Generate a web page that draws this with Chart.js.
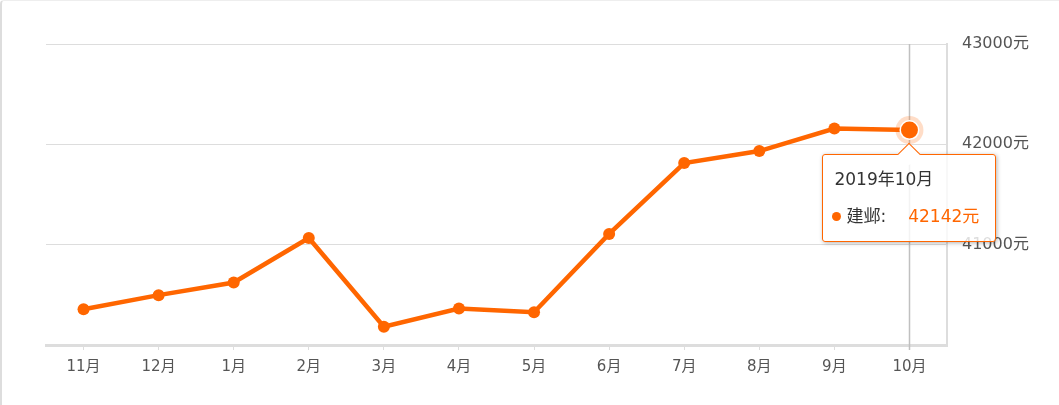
<!DOCTYPE html>
<html><head><meta charset="utf-8">
<script src="https://cdn.jsdelivr.net/npm/chart.js@4"></script>
<style>
html,body{margin:0;padding:0;background:#fff;}
#wrap{position:relative;width:1059px;height:405px;overflow:hidden;}
#frame{position:absolute;left:0;top:0;width:1200px;height:600px;border-left:2px solid #ddd;border-top:1px solid #eee;border-top-left-radius:4px;box-sizing:border-box;pointer-events:none;}
#c{position:absolute;left:0;top:0;}
#tip{position:absolute;background:rgba(255,255,255,0.8);border:1.5px solid #ff6600;border-radius:3px;box-shadow:1px 1px 4px rgba(0,0,0,0.3);font-family:"DejaVu Sans","Noto Sans CJK SC",sans-serif;box-sizing:border-box;}
#tip .caret{position:absolute;width:15px;height:15px;background:#fff;border-left:1.5px solid #ff6600;border-top:1.5px solid #ff6600;transform:rotate(45deg);}
#tip .t{position:absolute;left:11px;font-size:17px;line-height:20px;color:#333;white-space:nowrap;}
#tip .b{position:absolute;left:9px;font-size:17px;line-height:20px;color:#333;white-space:nowrap;}
#tip .dot{display:inline-block;width:9px;height:9px;border-radius:50%;background:#ff6600;margin-right:5px;vertical-align:1px;}
#tip .v{color:#ff6600;margin-left:22px;}
</style></head>
<body>
<div id="wrap">
<div id="frame"></div>
<canvas id="c" width="1059" height="405"></canvas>
<div id="tip" style="display:none"><div class="caret"></div><div class="t"></div><div class="b"></div></div>
</div>
<script>
const categories = ["11月","12月","1月","2月","3月","4月","5月","6月","7月","8月","9月","10月"];
const fullLabels = ["2018年11月","2018年12月","2019年1月","2019年2月","2019年3月","2019年4月","2019年5月","2019年6月","2019年7月","2019年8月","2019年9月","2019年10月"];
const seriesName = "建邺";
const prices = [40357,40497,40623,41067,40183,40363,40327,41107,41813,41933,42157,42142];
const yTicks = [41000,42000,43000];
const yMin = 40000, yMax = 43000;
const unit = "元";
const activeIndex = 11;

const ORANGE = "#ff6600";
const FONT = '"DejaVu Sans","Noto Sans CJK SC",sans-serif';

const crosshair = {
  id:'crosshair',
  beforeDatasetsDraw(chart){
    const act = chart.getActiveElements();
    if(!act.length) return;
    const el = chart.getDatasetMeta(0).data[act[0].index];
    const ca = chart.chartArea, ctx = chart.ctx;
    ctx.save();
    ctx.strokeStyle = '#c0c0c0'; ctx.lineWidth = 1.5;
    ctx.beginPath(); ctx.moveTo(Math.round(el.x)+0.5, ca.top); ctx.lineTo(Math.round(el.x)+0.5, ca.bottom+5); ctx.stroke();
    ctx.restore();
  },
  afterDatasetsDraw(chart){
    const act = chart.getActiveElements();
    if(!act.length) return;
    const el = chart.getDatasetMeta(0).data[act[0].index];
    const ctx = chart.ctx;
    ctx.save();
    ctx.fillStyle = 'rgba(255,102,0,0.22)';
    ctx.beginPath(); ctx.arc(el.x, el.y, 14, 0, Math.PI*2); ctx.fill();
    ctx.fillStyle = '#fff';
    ctx.beginPath(); ctx.arc(el.x, el.y, 10, 0, Math.PI*2); ctx.fill();
    ctx.fillStyle = ORANGE;
    ctx.beginPath(); ctx.arc(el.x, el.y, 8.5, 0, Math.PI*2); ctx.fill();
    ctx.restore();
  }
};

function externalTip(context){
  const tip = document.getElementById('tip');
  const m = context.tooltip;
  if(m.opacity === 0 || !m.dataPoints || !m.dataPoints.length){ tip.style.display='none'; return; }
  const dp = m.dataPoints[0];
  const w = 174, h = 88;
  tip.style.display='block';
  tip.style.width = w+'px'; tip.style.height = h+'px';
  tip.style.left = (m.caretX - 87) + 'px';
  tip.style.top = (m.caretY + 24) + 'px';
  const caret = tip.querySelector('.caret');
  caret.style.left = (87 - 9) + 'px'; caret.style.top = '-9px';
  const t = tip.querySelector('.t'); t.textContent = fullLabels[dp.dataIndex]; t.style.top='14px';
  const b = tip.querySelector('.b');
  b.innerHTML = '<span class="dot"></span>' + seriesName + ':<span class="v">' + prices[dp.dataIndex] + unit + '</span>';
  b.style.top='51px';
}

const chart = new Chart(document.getElementById('c'), {
  type:'line',
  data:{ labels:categories, datasets:[{
    label:seriesName, data:prices, borderColor:ORANGE, backgroundColor:ORANGE,
    borderWidth:4.5, pointRadius:6, pointHoverRadius:6, pointBorderWidth:0, pointHoverBorderWidth:0,
    tension:0, fill:false
  }]},
  options:{
    responsive:false, animation:false, events:[],
    layout:{padding:{left:46, top:44, right:0, bottom:0}},
    plugins:{ legend:{display:false}, tooltip:{enabled:false, external:externalTip} },
    scales:{
      x:{ offset:true,
        grid:{display:true, drawOnChartArea:false, tickLength:5, color:'#ddd', lineWidth:1},
        border:{display:true, color:'#ddd', width:3},
        ticks:{color:'#555', font:{family:FONT, size:15}, padding:8},
        afterFit(s){ s.height = 60; }
      },
      y:{ position:'right', min:yMin, max:yMax,
        afterBuildTicks(s){ s.ticks = yTicks.map(v=>({value:v})); },
        grid:{color:'#ddd', lineWidth:1, drawTicks:false},
        border:{display:true, color:'#ddd', width:2},
        ticks:{color:'#555', font:{family:FONT, size:16}, padding:15, callback:v=>v+unit},
        afterFit(s){ s.width = 112; }
      }
    }
  },
  plugins:[crosshair]
});
chart.setActiveElements([{datasetIndex:0,index:activeIndex}]);
const el = chart.getDatasetMeta(0).data[activeIndex];
chart.tooltip.setActiveElements([{datasetIndex:0,index:activeIndex}], {x:el.x, y:el.y});
chart.update();
</script>
</body></html>
